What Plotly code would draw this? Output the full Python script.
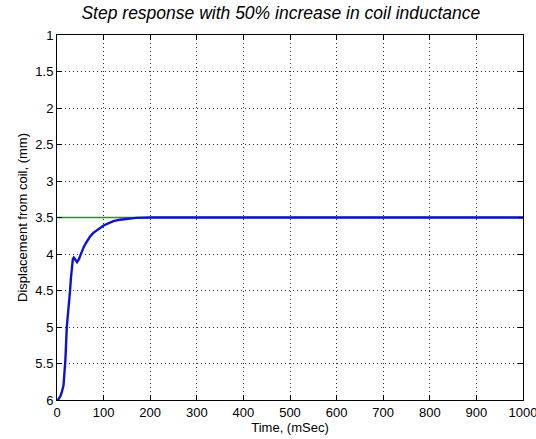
import plotly.graph_objects as go

# Step response samples (time in ms, displacement in mm)
time_ms = [0, 3, 7, 10, 14, 18, 21, 25, 28, 30, 32, 34, 36, 40, 43, 47, 50, 54, 57, 62, 66,
           71, 78, 86, 93, 100, 110, 121, 135, 150, 170, 200, 300, 500, 700, 1000]
displacement = [6.0, 5.99, 5.95, 5.9, 5.8, 5.45, 5.0, 4.75, 4.5, 4.32, 4.12, 4.07, 4.05, 4.08,
                4.11, 4.07, 4.02, 3.96, 3.91, 3.85, 3.8, 3.76, 3.71, 3.67, 3.64, 3.61, 3.58,
                3.55, 3.53, 3.515, 3.505, 3.5, 3.5, 3.5, 3.5, 3.5]

# Reference set point
ref_time = [0, 1000]
ref_value = [3.5, 3.5]

x_ticks = [0, 100, 200, 300, 400, 500, 600, 700, 800, 900, 1000]
y_ticks = [1, 1.5, 2, 2.5, 3, 3.5, 4, 4.5, 5, 5.5, 6]

FONT = "Liberation Sans, Arial, sans-serif"

fig = go.Figure()
fig.add_trace(go.Scatter(x=ref_time, y=ref_value, mode="lines",
                         line=dict(color="#1a9a1a", width=1.5), showlegend=False))
fig.add_trace(go.Scatter(x=time_ms, y=displacement, mode="lines",
                         line=dict(color="#0a14d0", width=2.4),
                         showlegend=False))

axis_common = dict(
    showline=True, linecolor="black", linewidth=1, mirror="ticks",
    ticks="inside", ticklen=5, tickcolor="black",
    showgrid=True, gridcolor="#333333", griddash="1px,3px", gridwidth=1,
    zeroline=False, ticklabeloverflow="allow", automargin=False,
    tickfont=dict(family=FONT, size=13, color="black"),
)

fig.update_xaxes(range=[0, 1000], tickvals=x_ticks,
                 title=dict(text="Time, (mSec)", standoff=1,
                            font=dict(family=FONT, size=13, color="black")),
                 **axis_common)
fig.update_yaxes(range=[6, 1], tickvals=y_ticks,
                 title=dict(text="Displacement from coil, (mm)", standoff=4,
                            font=dict(family=FONT, size=13, color="black")),
                 **axis_common)

fig.update_layout(
    width=536, height=439,
    margin=dict(l=57, r=13, t=35, b=39),
    paper_bgcolor="white", plot_bgcolor="white",
    title=dict(text="<i>Step response with 50% increase in coil inductance</i>",
               x=0.524, xanchor="center", y=0.985, yanchor="top",
               font=dict(family=FONT, size=17.5, color="black")),
)

fig.write_html("out.html")
